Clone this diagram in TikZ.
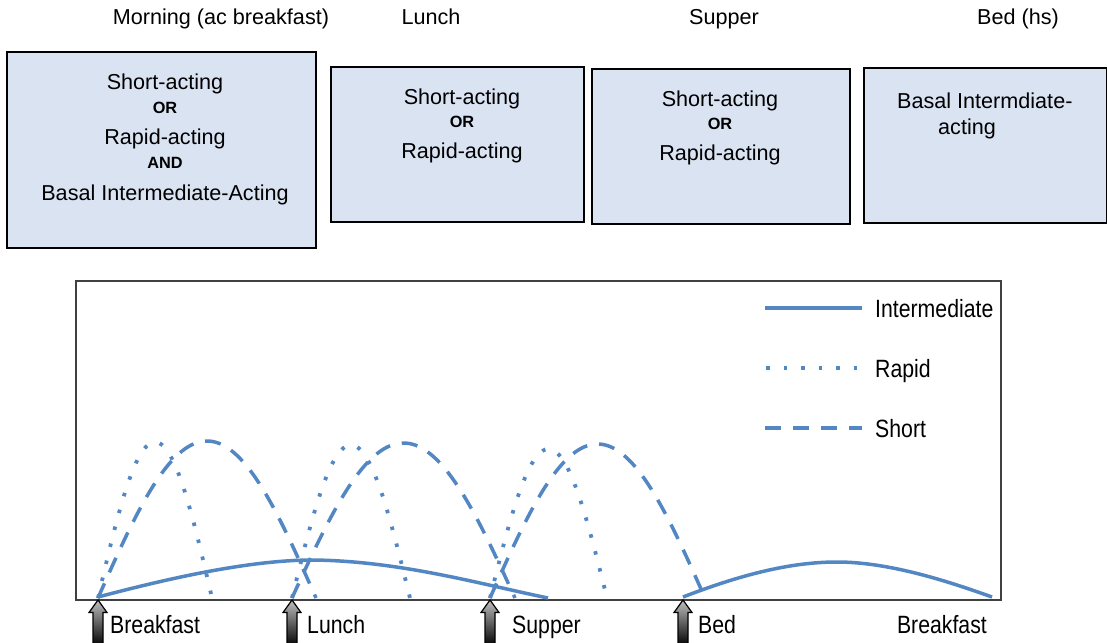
\documentclass[tikz,border=0pt]{standalone}
\usepackage{fontspec}
\setmainfont{Liberation Sans}
\newfontfamily\chartfont{Liberation Sans}[FakeStretch=0.85]
\definecolor{curveblue}{RGB}{83,135,195}
\definecolor{boxfill}{RGB}{218,227,242}
\definecolor{framegray}{RGB}{64,64,64}
\newcommand\conj[1]{{\fontsize{16.3}{20}\selectfont\bfseries #1}}

\begin{document}
\begin{tikzpicture}[x=1pt,y=-1pt,
  mealbox/.style={draw=black, line width=1.8pt, fill=boxfill, anchor=north west,
    outer sep=0pt, inner sep=0pt},
  boxtext/.style={inner sep=0pt, anchor=north, align=center,
    font=\fontsize{21.6}{28}\selectfont},
  toplabel/.style={inner sep=0pt, anchor=base, font=\fontsize{21.6}{26}\selectfont},
  chartlabel/.style={inner sep=0pt, font=\chartfont\fontsize{25}{30}\selectfont},
  intercurve/.style={draw=curveblue, line width=3.5pt},
  rapidcurve/.style={draw=curveblue, line width=3.8pt, dash pattern=on 3.5pt off 14pt},
  shortcurve/.style={draw=curveblue, line width=3.5pt, dash pattern=on 16pt off 12pt},
  mealarrow/.pic={
    \path[draw=black, line width=1.2pt, line join=miter, top color=black!25, bottom color=black]
      (0,0) -- (9,12.5) -- (5,12.5) -- (5,46) -- (-5,46) -- (-5,12.5)
      -- (-9,12.5) -- cycle;
  },
]
\useasboundingbox (0,0) rectangle (1107,642);
\fill[white] (0,0) rectangle (1107,642);

% headings of the four dosing times
\node[toplabel] (hMorning) at (221,25) {Morning (ac breakfast)};
\node[toplabel] (hLunch)   at (431,25) {Lunch};
\node[toplabel] (hSupper)  at (724,25) {Supper};
\node[toplabel] (hBed)     at (1018,25) {Bed (hs)};

% insulin boxes
\node[mealbox, minimum width=309pt, minimum height=196pt] (box1) at (7,52) {};
\node[mealbox, minimum width=253pt, minimum height=155pt] (box2) at (331,67) {};
\node[mealbox, minimum width=258pt, minimum height=155pt] (box3) at (592,69) {};
\node[mealbox, minimum width=243pt, minimum height=155pt] (box4) at (864,68) {};

\node[boxtext] (txt1) at (165,74)
  {Short-acting\\[-4pt]\conj{OR}\\[3pt]Rapid-acting\\[-4pt]\conj{AND}\\[4pt]Basal Intermediate-Acting};
\node[boxtext] (txt2) at (462,89)
  {Short-acting\\[-5pt]\conj{OR}\\[3pt]Rapid-acting};
\node[boxtext] (txt3) at (720,91)
  {Short-acting\\[-5pt]\conj{OR}\\[3pt]Rapid-acting};
\node[boxtext, anchor=north west, align=left] (txt4) at (897,93)
  {Basal Intermdiate-\\[-2pt]\hspace*{41pt}acting};

% chart frame
\draw[framegray, line width=2pt] (76,281) rectangle (1001,600);

% intermediate-acting profiles
\draw[intercurve] (98,597) .. controls (170,578) and (250,560) .. (313,560)
  .. controls (400,561) and (480,584) .. (548,598);
\draw[intercurve] (683,597) .. controls (740,575) and (790,562) .. (837,562)
  .. controls (890,562) and (950,582) .. (992,597);

% rapid-acting profiles
\foreach \a/\b/\h in {98/212/156, 292/410/153, 490/607/149}
  \draw[rapidcurve] plot[domain=\a:\b, samples=90]
    (\x, {598-\h*sin(180/(\b-\a)*(\x-\a))});

% short-acting profiles
\foreach \a/\b/\h in {98/316/157, 292/515/155, 490/705/154}
  \draw[shortcurve] plot[domain=\a:\b, samples=120]
    (\x, {598-\h*sin(180/(\b-\a)*(\x-\a))});

% legend
\draw[intercurve, line width=4pt] (765,308) -- (862,308);
\draw[rapidcurve] (766,368) -- (862,368);
\draw[shortcurve] (765,428) -- (862,428);
\node[chartlabel, anchor=base west] (legInter) at (875,317) {Intermediate};
\node[chartlabel, anchor=base west] (legRapid) at (875,377) {Rapid};
\node[chartlabel, anchor=base west] (legShort) at (875,437) {Short};

% meal and bedtime markers
\pic at (98,600) {mealarrow};
\pic at (292,600) {mealarrow};
\pic at (490,600) {mealarrow};
\pic at (683,600) {mealarrow};
\node[chartlabel, anchor=base west] (tBreakfast) at (110,633) {Breakfast};
\node[chartlabel, anchor=base west] (tLunch)     at (307,633) {Lunch};
\node[chartlabel, anchor=base west] (tSupper)    at (512,633) {Supper};
\node[chartlabel, anchor=base west] (tBed)       at (698,633) {Bed};
\node[chartlabel, anchor=base east] (tNext)      at (987,633) {Breakfast};
\end{tikzpicture}
\end{document}
